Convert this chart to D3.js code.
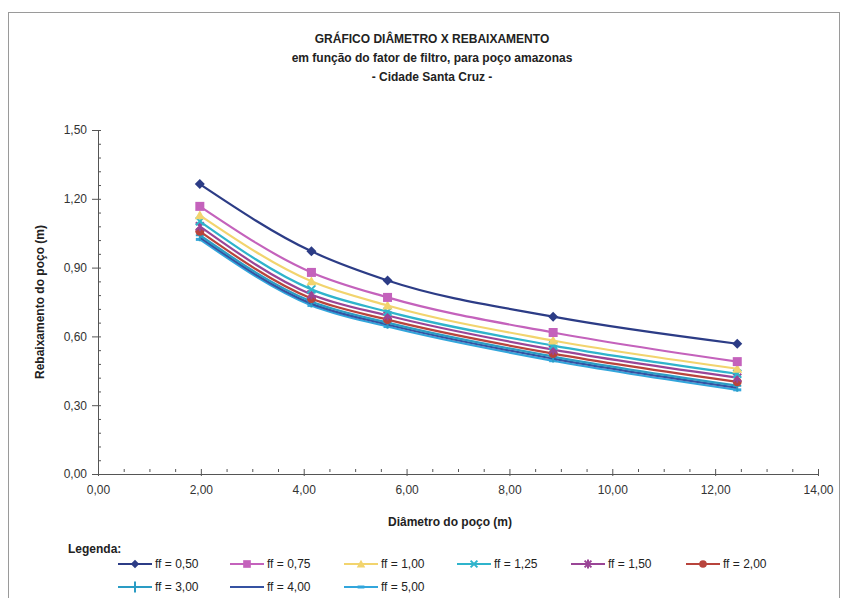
<!DOCTYPE html>
<html>
<head>
<meta charset="utf-8">
<script src="https://cdn.jsdelivr.net/npm/d3@7"></script>
<style>
  html, body { margin: 0; padding: 0; background: #fff; }
  svg { display: block; font-family: "Liberation Sans", Arial, sans-serif; }
</style>
</head>
<body>
<svg id="chart" width="848" height="598"></svg>
<script>
// Well diameters (m) and drawdown (m) per filter factor
const diameters = [1.98, 4.15, 5.63, 8.85, 12.43];
const seriesNames = ["ff = 0,50", "ff = 0,75", "ff = 1,00", "ff = 1,25", "ff = 1,50", "ff = 2,00", "ff = 3,00", "ff = 4,00", "ff = 5,00"];
const ff050 = [1.264, 0.971, 0.844, 0.686, 0.568];
const ff075 = [1.167, 0.879, 0.770, 0.617, 0.490];
const ff100 = [1.128, 0.840, 0.735, 0.582, 0.459];
const ff125 = [1.102, 0.805, 0.708, 0.560, 0.437];
const ff150 = [1.080, 0.783, 0.691, 0.542, 0.420];
const ff200 = [1.058, 0.765, 0.673, 0.525, 0.402];
const ff300 = [1.041, 0.752, 0.660, 0.512, 0.385];
const ff400 = [1.032, 0.743, 0.652, 0.503, 0.376];
const ff500 = [1.023, 0.735, 0.643, 0.494, 0.367];
const seriesValues = [ff050, ff075, ff100, ff125, ff150, ff200, ff300, ff400, ff500];
const xTicks = [0, 2, 4, 6, 8, 10, 12, 14];
const yTicks = [0, 0.3, 0.6, 0.9, 1.2, 1.5];
const titleLines = ["GRÁFICO DIÂMETRO X REBAIXAMENTO", "em função do fator de filtro, para poço amazonas", "- Cidade Santa Cruz -"];

const colors = ["#2c3c86", "#c462bc", "#f2d46e", "#2fb4cc", "#9a4596", "#b8443c", "#2a9cc4", "#3552a2", "#32a6dc"];
const markers = ["diamond", "square", "triangle", "x", "star", "circle", "plus", "none", "dash"];

const svg = d3.select("#chart");
const fmt = v => d3.format(".2f")(v).replace(".", ",");

// Outer frame
svg.append("rect").attr("x", 8.5).attr("y", 12.5).attr("width", 831).attr("height", 600)
  .attr("fill", "none").attr("stroke", "#9a9a9a").attr("stroke-width", 1);

// Titles
titleLines.forEach((t, i) => {
  svg.append("text").attr("x", 432).attr("y", 43 + i * 19)
    .attr("text-anchor", "middle").attr("font-size", 12).attr("font-weight", "bold")
    .attr("fill", "#222").text(t);
});

const x = d3.scaleLinear().domain([0, 14]).range([98, 818]);
const y = d3.scaleLinear().domain([0, 1.5]).range([474, 130]);

// Y axis: minor ticks inside, major ticks outside with labels
const gy = svg.append("g").attr("transform", `translate(${x(0)},0)`);
gy.call(d3.axisRight(y).tickValues(d3.range(0, 1.5001, 0.06)).tickSizeInner(3).tickSizeOuter(0).tickFormat(""));
gy.append("g").call(d3.axisLeft(y).tickValues(yTicks).tickSize(6).tickFormat(fmt));
gy.selectAll("path").attr("stroke", "#555");
gy.selectAll("line").attr("stroke", "#555");
gy.selectAll("text").attr("font-size", 12).attr("fill", "#333").attr("font-family", "Liberation Sans, Arial, sans-serif").attr("dx", -2);

// X axis: minor ticks inside, major ticks crossing with labels
const gx = svg.append("g").attr("transform", `translate(0,${y(0)})`);
gx.call(d3.axisBottom(x).tickValues(d3.range(0, 14.001, 0.5)).tickSizeInner(-3).tickSizeOuter(0).tickFormat(""));
gx.append("g").call(d3.axisBottom(x).tickValues(xTicks).tickSizeInner(4).tickSizeOuter(0).tickFormat(fmt));
gx.selectAll("line").attr("transform", "translate(0,-2)");
gx.selectAll("path").attr("stroke", "#555");
gx.selectAll("line").attr("stroke", "#555");
gx.selectAll("text").attr("font-size", 12).attr("fill", "#333").attr("font-family", "Liberation Sans, Arial, sans-serif").attr("dy", "1.1em");

// Axis titles
svg.append("text").attr("x", 450).attr("y", 526).attr("text-anchor", "middle")
  .attr("font-size", 12).attr("font-weight", "bold").attr("fill", "#222").text("Diâmetro do poço (m)");
svg.append("text").attr("transform", "translate(44,302) rotate(-90)").attr("text-anchor", "middle")
  .attr("font-size", 12).attr("font-weight", "bold").attr("fill", "#222").text("Rebaixamento do poço (m)");

// Marker drawing
function drawMarker(g, type, cx, cy, color, k = 1) {
  const s = 4 * k;
  if (type === "diamond") {
    const r = 5 * k;
    g.append("path").attr("d", `M${cx},${cy - r}L${cx + r},${cy}L${cx},${cy + r}L${cx - r},${cy}Z`).attr("fill", color);
  } else if (type === "square") {
    const h = 4.5 * k;
    g.append("rect").attr("x", cx - h).attr("y", cy - h).attr("width", 2 * h).attr("height", 2 * h).attr("fill", color);
  } else if (type === "triangle") {
    const r = 5 * k;
    g.append("path").attr("d", `M${cx},${cy - r}L${cx + r},${cy + 0.8 * r}L${cx - r},${cy + 0.8 * r}Z`).attr("fill", color);
  } else if (type === "x") {
    g.append("path").attr("d", `M${cx - s},${cy - s}L${cx + s},${cy + s}M${cx + s},${cy - s}L${cx - s},${cy + s}`)
      .attr("stroke", color).attr("stroke-width", 2);
  } else if (type === "star") {
    g.append("path").attr("d", `M${cx - s},${cy - s}L${cx + s},${cy + s}M${cx + s},${cy - s}L${cx - s},${cy + s}M${cx},${cy - s - 1}L${cx},${cy + s + 1}`)
      .attr("stroke", color).attr("stroke-width", 2);
  } else if (type === "circle") {
    g.append("circle").attr("cx", cx).attr("cy", cy).attr("r", 4.5 * k).attr("fill", color);
  } else if (type === "plus") {
    g.append("path").attr("d", `M${cx},${cy - s - 2}L${cx},${cy + s + 2}M${cx - s},${cy}L${cx + s},${cy}`)
      .attr("stroke", color).attr("stroke-width", 2);
  } else if (type === "dash") {
    g.append("path").attr("d", `M${cx - s},${cy}L${cx + s},${cy}`)
      .attr("stroke", color).attr("stroke-width", 3);
  }
}

// Series lines (last series drawn first so the top curves stay on top)
const line = d3.line().x(d => x(d[0])).y(d => y(d[1])).curve(d3.curveMonotoneX);
const plot = svg.append("g");
for (let i = seriesValues.length - 1; i >= 0; i--) {
  const pts = diameters.map((d, j) => [d, seriesValues[i][j]]);
  const g = plot.append("g");
  g.append("path").datum(pts).attr("d", line).attr("fill", "none")
    .attr("stroke", colors[i]).attr("stroke-width", 2.2);
  pts.forEach(p => drawMarker(g, markers[i], x(p[0]), y(p[1]), colors[i]));
}

// Legend
svg.append("text").attr("x", 68).attr("y", 553).attr("font-size", 12).attr("font-weight", "bold")
  .attr("fill", "#222").text("Legenda:");
const legendX = [118, 230, 344, 457, 571, 686];
seriesNames.forEach((name, i) => {
  const row = Math.floor(i / 6), col = i % 6;
  const lx = legendX[col], ly = 564 + row * 23;
  const g = svg.append("g");
  g.append("line").attr("x1", lx).attr("x2", lx + 34).attr("y1", ly).attr("y2", ly)
    .attr("stroke", colors[i]).attr("stroke-width", 2);
  drawMarker(g, markers[i], lx + 17, ly, colors[i], 0.85);
  g.append("text").attr("x", lx + 37).attr("y", ly + 4).attr("font-size", 12)
    .attr("fill", "#222").text(name);
});
</script>
</body>
</html>
